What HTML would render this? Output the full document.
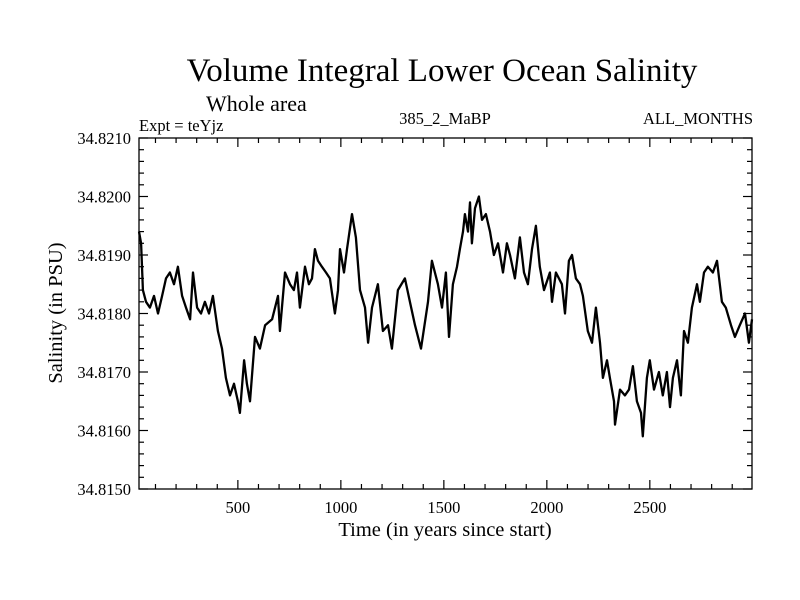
<!DOCTYPE html>
<html><head><meta charset="utf-8"><style>
body{margin:0;background:#fff}
svg{display:block;font-family:"Liberation Serif",serif}
</style></head><body>
<svg id="chart" width="800" height="600">
<text x="442" y="81" font-size="33" text-anchor="middle">Volume Integral Lower Ocean Salinity</text>
<text x="206" y="111" font-size="22">Whole area</text>
<text x="139" y="131" font-size="16.5">Expt = teYjz</text>
<text x="445" y="124" font-size="16.5" text-anchor="middle">385_2_MaBP</text>
<text x="753" y="124" font-size="16.5" text-anchor="end">ALL_MONTHS</text>
<text x="445" y="536" font-size="20.5" text-anchor="middle">Time (in years since start)</text>
<text transform="translate(62,313) rotate(-90)" font-size="20.5" text-anchor="middle">Salinity (in PSU)</text>
<g id="axes"></g>
<path id="line" fill="none" stroke="#000" stroke-width="2.3" stroke-linejoin="round"/>
<rect x="139" y="138" width="613" height="351" fill="none" stroke="#000" stroke-width="1.3"/>
</svg>
<script>
const years=[20,30,39,54,73,93,112,132,151,170,190,209,229,248,268,282,302,321,340,360,379,403,423,442,462,481,500,510,530,544,559,583,607,632,666,695,704,729,753,772,787,801,826,845,860,874,889,908,928,947,971,986,996,1015,1030,1054,1073,1093,1117,1132,1151,1180,1204,1229,1248,1277,1311,1335,1360,1389,1423,1442,1471,1491,1510,1525,1544,1564,1578,1593,1602,1617,1627,1636,1651,1670,1685,1704,1724,1743,1763,1787,1806,1821,1845,1869,1889,1908,1928,1947,1966,1986,2015,2025,2044,2073,2088,2107,2122,2141,2161,2175,2199,2219,2238,2258,2272,2292,2306,2326,2331,2355,2379,2399,2418,2437,2457,2466,2486,2500,2520,2544,2563,2583,2598,2612,2632,2651,2666,2685,2704,2729,2743,2763,2782,2806,2826,2850,2869,2894,2913,2937,2962,2981,2996];
const salinity=[34.8194,34.8192,34.8184,34.8182,34.8181,34.8183,34.8180,34.8183,34.8186,34.8187,34.8185,34.8188,34.8183,34.8181,34.8179,34.8187,34.8181,34.8180,34.8182,34.8180,34.8183,34.8177,34.8174,34.8169,34.8166,34.8168,34.8165,34.8163,34.8172,34.8168,34.8165,34.8176,34.8174,34.8178,34.8179,34.8183,34.8177,34.8187,34.8185,34.8184,34.8187,34.8181,34.8188,34.8185,34.8186,34.8191,34.8189,34.8188,34.8187,34.8186,34.8180,34.8184,34.8191,34.8187,34.8191,34.8197,34.8193,34.8184,34.8181,34.8175,34.8181,34.8185,34.8177,34.8178,34.8174,34.8184,34.8186,34.8182,34.8178,34.8174,34.8182,34.8189,34.8185,34.8181,34.8187,34.8176,34.8185,34.8188,34.8191,34.8194,34.8197,34.8194,34.8199,34.8192,34.8198,34.8200,34.8196,34.8197,34.8194,34.8190,34.8192,34.8187,34.8192,34.8190,34.8186,34.8193,34.8187,34.8185,34.8191,34.8195,34.8188,34.8184,34.8187,34.8182,34.8187,34.8185,34.8180,34.8189,34.8190,34.8186,34.8185,34.8183,34.8177,34.8175,34.8181,34.8175,34.8169,34.8172,34.8169,34.8165,34.8161,34.8167,34.8166,34.8167,34.8171,34.8165,34.8163,34.8159,34.8169,34.8172,34.8167,34.8170,34.8166,34.8170,34.8164,34.8169,34.8172,34.8166,34.8177,34.8175,34.8181,34.8185,34.8182,34.8187,34.8188,34.8187,34.8189,34.8182,34.8181,34.8178,34.8176,34.8178,34.8180,34.8175,34.8179];
const xTicks=[500,1000,1500,2000,2500];
const yTicks=["34.8150","34.8160","34.8170","34.8180","34.8190","34.8200","34.8210"];
const X0=139,X1=752,Y0=489,Y1=138,XMIN=20,XMAX=2996,YMIN=34.815,YMAX=34.821;
const sx=v=>X0+(v-XMIN)/(XMAX-XMIN)*(X1-X0);
const sy=v=>Y0-(v-YMIN)/(YMAX-YMIN)*(Y0-Y1);
const NS="http://www.w3.org/2000/svg";
const ax=document.getElementById('axes');
function ln(x1,y1,x2,y2,name){const l=document.createElementNS(NS,'line');
l.setAttribute('x1',x1);l.setAttribute('y1',y1);l.setAttribute('x2',x2);l.setAttribute('y2',y2);
l.setAttribute('stroke','#000');l.setAttribute('stroke-width','1.2');


ax.appendChild(l);}
function tx(x,y,s,anchor,name){const t=document.createElementNS(NS,'text');
t.setAttribute('x',x);t.setAttribute('y',y);t.setAttribute('font-size','16.5');t.setAttribute('text-anchor',anchor);t.textContent=s;


ax.appendChild(t);}
for(let v=100;v<XMAX;v+=100){const x=sx(v);const major=v%500===0;const len=major?9:5;
ln(x,Y0,x,Y0-len,'x-tick');ln(x,Y1,x,Y1+len,'x-tick-top');}
xTicks.forEach(v=>tx(sx(v),Y0+24,String(v),'middle','x-tick-label'));
for(let i=0;i<=30;i++){const v=YMIN+i*0.0002;const y=sy(v);const major=i%5===0;const len=major?9:5;
ln(X0,y,X0+len,y,'y-tick');ln(X1,y,X1-len,y,'y-tick-right');}
yTicks.forEach(s=>tx(X0-8,sy(parseFloat(s))+6,s,'end','y-tick-label'));
let d='';years.forEach((yr,i)=>{d+=(i?'L':'M')+sx(yr).toFixed(1)+','+sy(salinity[i]).toFixed(1);});
document.getElementById('line').setAttribute('d',d);
</script>
</body></html>
